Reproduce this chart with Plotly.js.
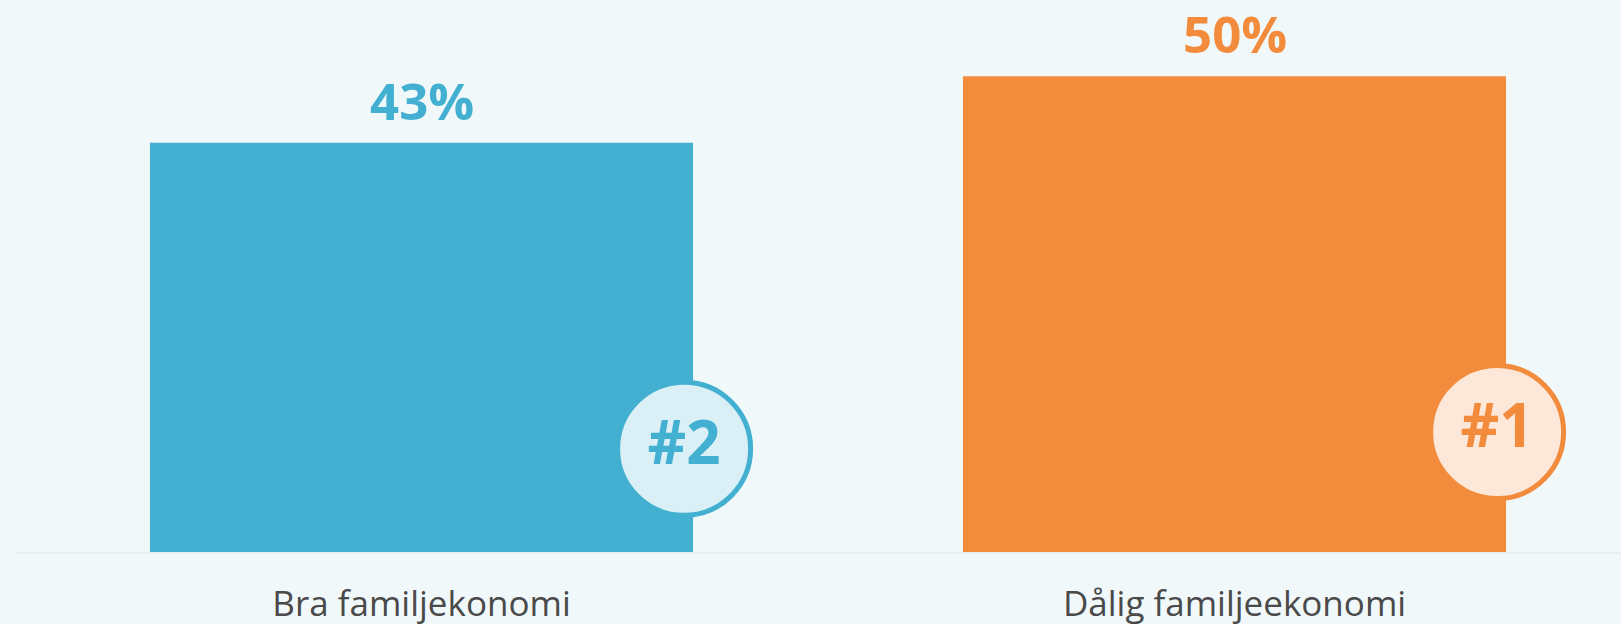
<!DOCTYPE html>
<html>
<head>
<meta charset="utf-8">
<script src="https://cdn.plot.ly/plotly-3.0.1.min.js"></script>
<style>
  html, body { margin: 0; padding: 0; background: #f0f8fa; }
  #chart { width: 1621px; height: 624px; }
</style>
</head>
<body>
<div id="chart"></div>
<script>
// Data
const categories = ["Bra familjekonomi", "Dålig familjeekonomi"];
const values = [43, 50];
const valueLabels = ["43%", "50%"];
const ranks = ["#2", "#1"];
const barColors = ["#43b0d2", "#f28b3c"];
const badgeFills = ["#daf0f6", "#fce7d9"];

const barWidth = 0.668;
const badgeOffset = 0.011; // in category units, left of bar edge

const barTrace = {
  type: "bar",
  x: [0, 1],
  y: values,
  width: barWidth,
  marker: { color: barColors, line: { width: 0 } },
  hoverinfo: "skip"
};

const badgeX = values.map((v, i) => i + barWidth / 2 - badgeOffset);
const badgeY = values.map(v => v * 0.252);

const badgeTrace = {
  type: "scatter",
  mode: "markers+text",
  x: badgeX,
  y: badgeY,
  marker: {
    symbol: "circle",
    size: 133,
    color: badgeFills,
    line: { color: barColors, width: 5 }
  },
  text: ranks.map(r => "<b>" + r + "</b>"),
  textposition: "middle center",
  textfont: { family: "Open Sans, sans-serif", size: 60, color: barColors },
  cliponaxis: false,
  hoverinfo: "skip"
};

const annotations = values.map((v, i) => ({
  x: i, y: v, xref: "x", yref: "y",
  text: "<b>" + valueLabels[i] + "</b>",
  showarrow: false, yanchor: "bottom", yshift: 16,
  height: 50, valign: "middle",
  font: { family: "Open Sans, sans-serif", size: 51, color: barColors[i] }
}));

const layout = {
  width: 1621, height: 624,
  margin: { l: 15, r: 0, t: 0, b: 72, pad: 0 },
  paper_bgcolor: "#f0f8fa",
  plot_bgcolor: "#f0f8fa",
  showlegend: false,
  xaxis: {
    range: [-0.5, 1.4754],
    tickmode: "array",
    tickvals: [0, 1],
    ticktext: categories,
    showgrid: false, zeroline: false,
    showline: true, linecolor: "#e9eded", linewidth: 2,
    ticks: "",
    ticklabelstandoff: 20,
    tickfont: { family: "Open Sans, sans-serif", size: 35, color: "#4a4a4a" },
    fixedrange: true
  },
  yaxis: {
    range: [0, 58],
    visible: false, showgrid: false, zeroline: false,
    fixedrange: true
  },
  annotations: annotations
};

Plotly.newPlot("chart", [barTrace, badgeTrace], layout, { displayModeBar: false, staticPlot: true });
</script>
</body>
</html>
